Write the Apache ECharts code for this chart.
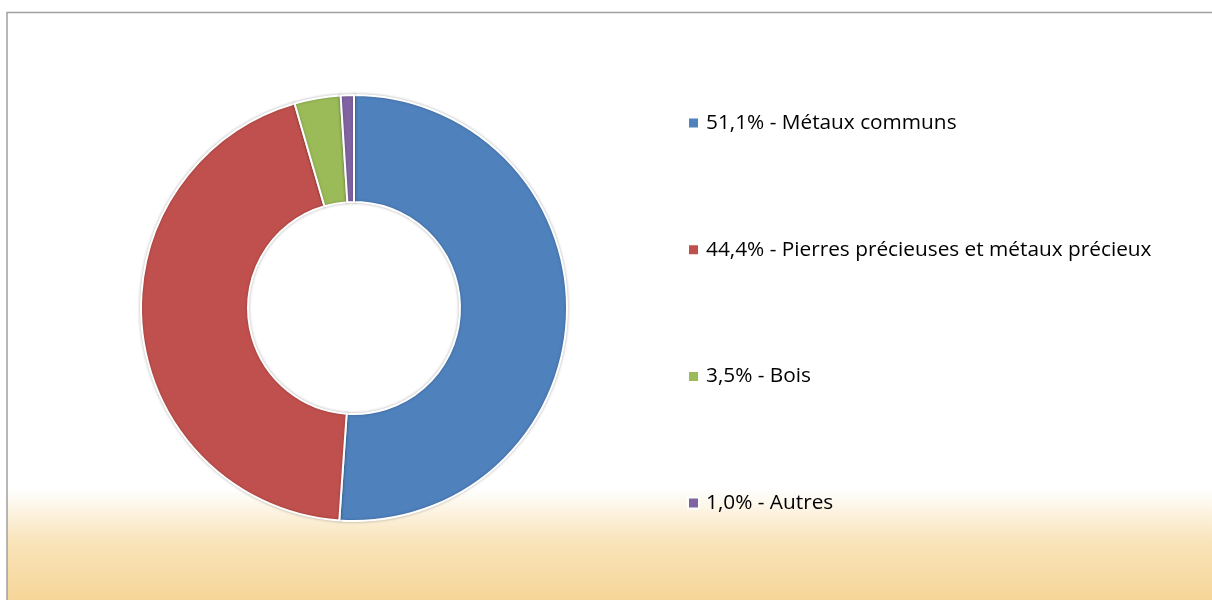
<!DOCTYPE html>
<html><head><meta charset="utf-8">
<script src="https://cdn.jsdelivr.net/npm/echarts@6/dist/echarts.min.js"></script>
<style>html,body{margin:0;padding:0;background:#fff}#c{width:1212px;height:600px}</style>
</head><body><div id="c"></div>
<script>
const categories = ['Métaux communs', 'Pierres précieuses et métaux précieux', 'Bois', 'Autres'];
const values = [51.1, 44.4, 3.5, 1.0];
const colors = ['#4F81BD', '#C0504D', '#9BBB59', '#8064A2'];

const chart = echarts.init(document.getElementById('c'), null, {renderer: 'canvas'});
const fmt = v => v.toFixed(1).replace('.', ',') + '%';
chart.setOption({
  animation: false,
  graphic: [{
    type: 'rect', z: -10, silent: true,
    shape: {x: 7, y: 12.5, width: 1220, height: 600},
    style: {
      stroke: '#A0A0A0', lineWidth: 1.5,
      fill: {type: 'linear', x: 0, y: 0, x2: 0, y2: 1, colorStops: [
        {offset: 0, color: '#FFFFFF'},
        {offset: 0.793, color: '#FFFFFF'},
        {offset: 0.88, color: '#F9E4BA'},
        {offset: 1, color: '#F5D290'}
      ]}
    }
  }],
  legend: {
    orient: 'vertical', left: 682, top: 107.5,
    itemWidth: 11, itemHeight: 11, itemGap: 105.7, icon: 'rect',
    textStyle: {fontFamily: 'Open Sans', fontSize: 20.8, lineHeight: 21, color: '#000', padding: [0, 0, 0, 2]},
    formatter: name => fmt(values[categories.indexOf(name)]) + ' - ' + name
  },
  series: [{
    type: 'pie', center: [354, 308], radius: [106, 213],
    startAngle: 90, clockwise: true,
    label: {show: false}, labelLine: {show: false},
    itemStyle: {borderColor: '#fff', borderWidth: 2, shadowBlur: 3, shadowColor: 'rgba(0,0,0,0.25)'},
    emphasis: {disabled: true},
    data: categories.map((n, i) => ({name: n, value: values[i], itemStyle: {color: colors[i]}}))
  }]
});
</script></body></html>
